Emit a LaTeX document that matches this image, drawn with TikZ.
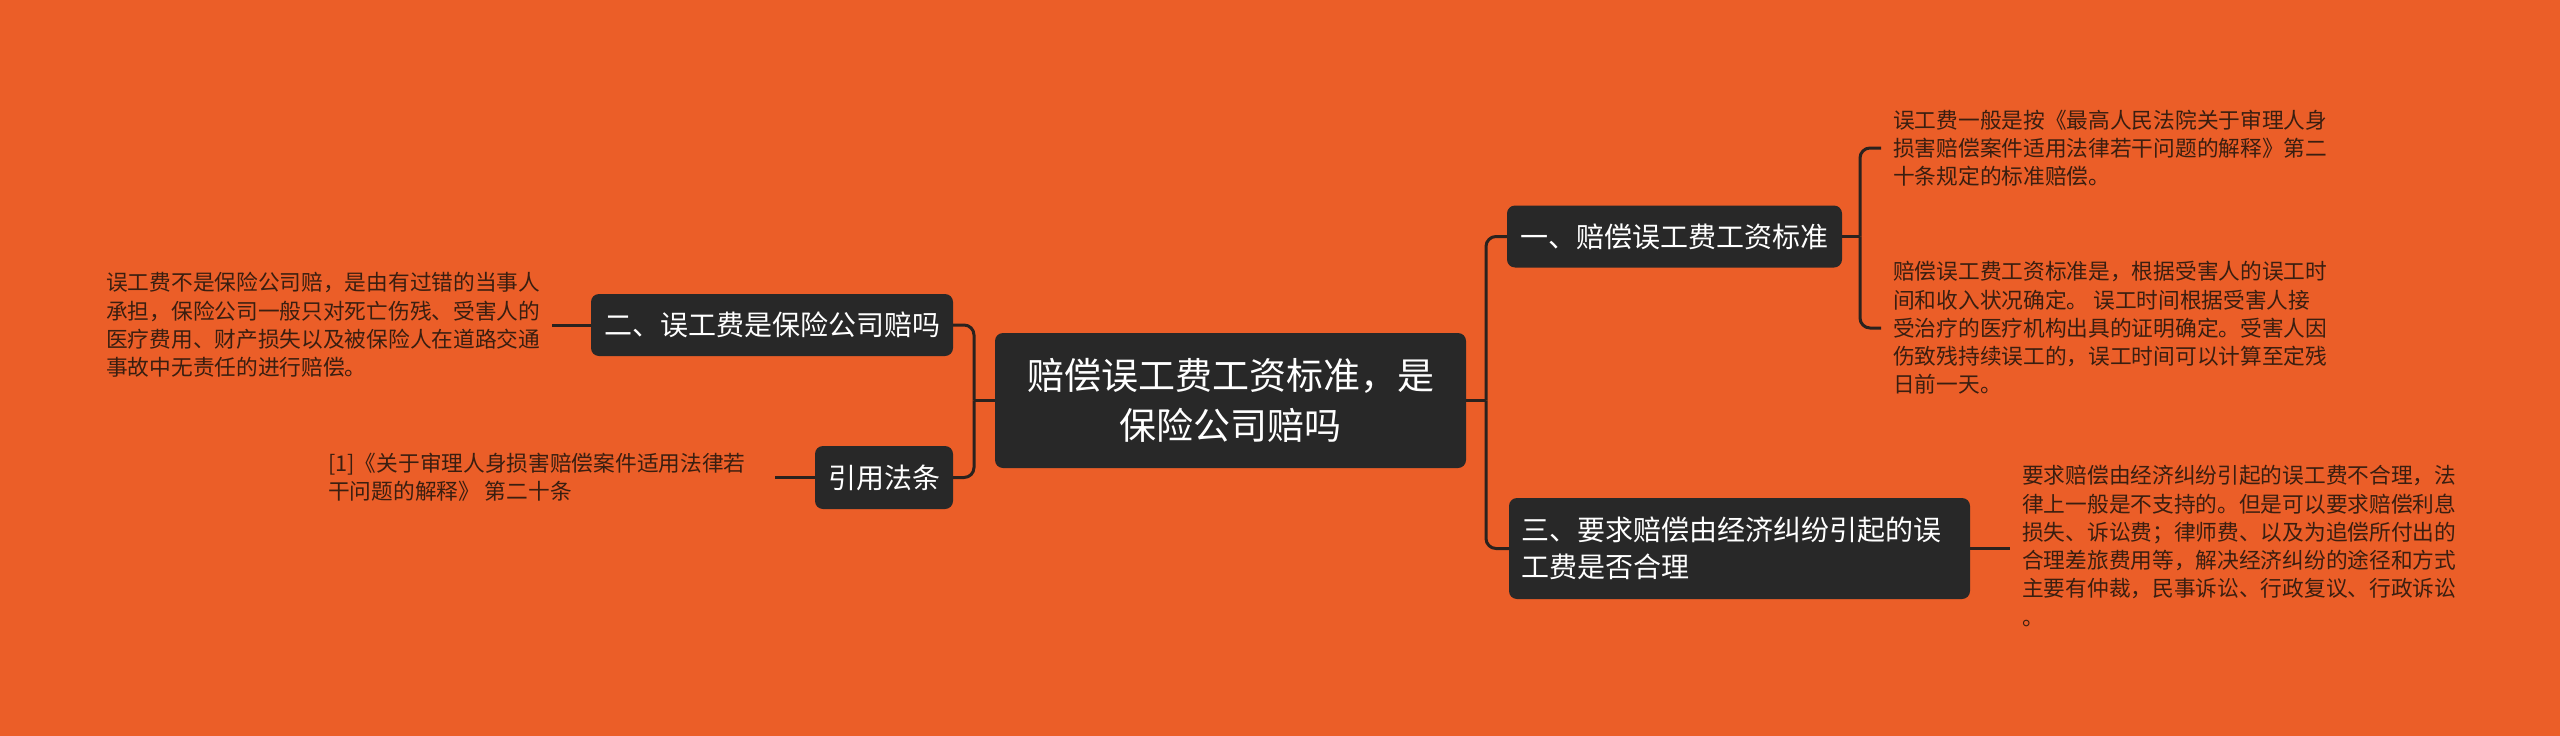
\documentclass[tikz,border=0pt]{standalone}
\usepackage{fontspec}
\setmainfont{Noto Sans CJK SC}
\definecolor{bg}{RGB}{235,94,40}
\definecolor{boxc}{RGB}{40,40,40}
\definecolor{lnc}{RGB}{42,34,30}
\definecolor{leafc}{RGB}{58,30,16}
\begin{document}
\begin{tikzpicture}[x=1pt,y=-1pt,
  mainbox/.style={rectangle, rounded corners=8pt, fill=boxc, text=white, inner sep=0pt, align=center, font=\fontsize{37}{50}\selectfont},
  subbox/.style={rectangle, rounded corners=8pt, fill=boxc, text=white, inner sep=0pt, font=\fontsize{28}{37}\selectfont},
  leaftext/.style={inner xsep=12pt, inner ysep=0pt, text=leafc, align=left, anchor=west, font=\fontsize{21.7}{28.3}\selectfont},
  conn/.style={draw=lnc, line width=3pt, rounded corners=10pt}]
\fill[bg] (0,0) rectangle (2560,736);
\useasboundingbox (0,0) rectangle (2560,736);

\node[mainbox, minimum width=471pt, minimum height=135pt] (c) at (1230.5,400.5) {赔偿误工费工资标准，是\\保险公司赔吗};
\node[subbox, minimum width=335pt, minimum height=62pt] (n1) at (1674.5,236.5) {一、赔偿误工费工资标准};
\node[subbox, minimum width=362pt, minimum height=62pt] (n2) at (772,325) {二、误工费是保险公司赔吗};
\node[subbox, minimum width=138pt, minimum height=63pt] (n4) at (884,477.5) {引用法条};
\node[subbox, minimum width=461pt, minimum height=101pt, text width=437pt, align=left] (n3) at (1739.5,548.5) {三、要求赔偿由经济纠纷引起的误\\工费是否合理};

\node[leaftext] (l1a) at (1881,148) {误工费一般是按《最高人民法院关于审理人身\\损害赔偿案件适用法律若干问题的解释》第二\\十条规定的标准赔偿。};
\node[leaftext] (l1b) at (1881,328) {赔偿误工费工资标准是，根据受害人的误工时\\间和收入状况确定。 误工时间根据受害人接\\受治疗的医疗机构出具的证明确定。受害人因\\伤致残持续误工的，误工时间可以计算至定残\\日前一天。};
\node[leaftext] (l3) at (2010,546) {要求赔偿由经济纠纷引起的误工费不合理，法\\律上一般是不支持的。但是可以要求赔偿利息\\损失、诉讼费；律师费、以及为追偿所付出的\\合理差旅费用等，解决经济纠纷的途径和方式\\主要有仲裁，民事诉讼、行政复议、行政诉讼\\。};
\node[leaftext] (l2) at (94,325) {误工费不是保险公司赔，是由有过错的当事人\\承担，保险公司一般只对死亡伤残、受害人的\\医疗费用、财产损失以及被保险人在道路交通\\事故中无责任的进行赔偿。};
\node[leaftext] (l4) at (316,477.5) {[1]《关于审理人身损害赔偿案件适用法律若\\干问题的解释》 第二十条};

\coordinate (jr) at (1486,400.5);
\coordinate (jl) at (974,400.5);
\coordinate (jb) at (1860,236.5);
\coordinate (e4) at (775,477.5);

\draw[conn] (c.east) -- (jr);
\draw[conn] (jr) |- (n1.west);
\draw[conn] (jr) |- (n3.west);
\draw[conn] (c.west) -- (jl);
\draw[conn] (jl) |- (n2.east);
\draw[conn] (jl) |- (n4.east);
\draw[conn] (n1.east) -- (jb);
\draw[conn] (jb) |- (l1a.west);
\draw[conn] (jb) |- (l1b.west);
\draw[conn] (n3.east) -- (n3.east -| l3.west);
\draw[conn] (n2.west) -- (n2.west -| l2.east);
\draw[conn] (n4.west) -- (e4);
\end{tikzpicture}
\end{document}
